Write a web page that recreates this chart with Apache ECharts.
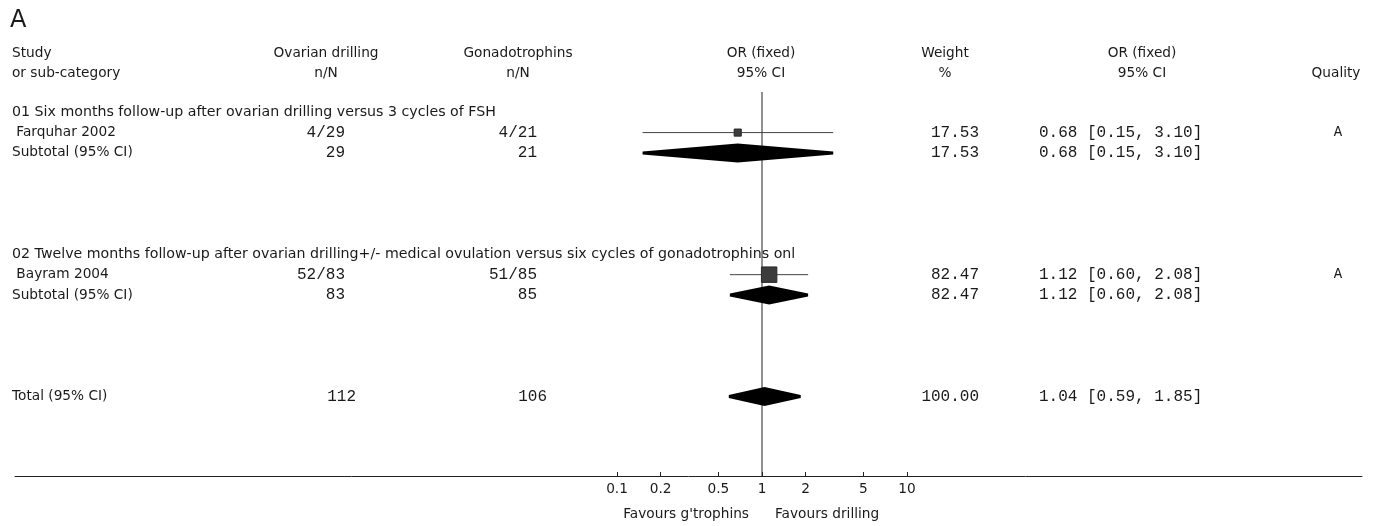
<!DOCTYPE html>
<html><head><meta charset="utf-8">
<script src="https://cdn.jsdelivr.net/npm/echarts@6/dist/echarts.min.js"></script>
<style>html,body{margin:0;padding:0;background:#fff}#c{width:1378px;height:526px}</style>
</head><body><div id="c"></div>
<script>
// ---------- data ----------
const panelLabel = 'A';
const headerRow1 = ['Study', 'Ovarian drilling', 'Gonadotrophins', 'OR (fixed)', 'Weight', 'OR (fixed)', ''];
const headerRow2 = ['or sub-category', 'n/N', 'n/N', '95% CI', '%', '95% CI', 'Quality'];
const groupTitles = [
  '01 Six months follow-up after ovarian drilling versus 3 cycles of FSH',
  '02 Twelve months follow-up after ovarian drilling+/- medical ovulation versus six cycles of gonadotrophins onl'
];
const studyNames = [' Farquhar 2002', ' Bayram 2004'];
const drillEvents = [4, 52];
const drillTotals = [29, 83];
const gonEvents = [4, 51];
const gonTotals = [21, 85];
const studyOR = [0.68, 1.12];
const studyLo = [0.15, 0.60];
const studyHi = [3.10, 2.08];
const studyWeight = [17.53, 82.47];
const studyQuality = ['A', 'A'];
const subtotalLabel = 'Subtotal (95% CI)';
const subtotalDrillN = [29, 83];
const subtotalGonN = [21, 85];
const subtotalOR = [0.68, 1.12];
const subtotalLo = [0.15, 0.60];
const subtotalHi = [3.10, 2.08];
const subtotalWeight = [17.53, 82.47];
const totalLabel = 'Total (95% CI)';
const totalDrillN = [112];
const totalGonN = [106];
const totalOR = [1.04];
const totalLo = [0.59];
const totalHi = [1.85];
const totalWeight = [100.00];
const tickValues = [0.1, 0.2, 0.5, 1, 2, 5, 10];
const favoursLeft = "Favours g'trophins";
const favoursRight = 'Favours drilling';

// ---------- layout ----------
const X_MIN = -5.152, X_MAX = 4.138;   // log10 OR range spanned by the axis line
const Y_MIN = -1, Y_MAX = 17.92;       // row range
const GROUP_STEP = 7, TOTAL_ROW = 14;
const SANS = 'DejaVu Sans', MONO = 'Liberation Mono';
const SANS_SIZE = 13.7, TITLE_SIZE = 14.2, MONO_SIZE = 16;
const TXT = '#1a1a1a';
const L = Math.log10;

const studyData = studyOR.map((o, i) => [L(studyLo[i]), L(studyHi[i]), L(o), i * GROUP_STEP + 1, studyWeight[i]]);
const diamondData = subtotalOR.map((o, i) => [L(subtotalLo[i]), L(subtotalHi[i]), L(o), i * GROUP_STEP + 2])
  .concat([[L(totalLo[0]), L(totalHi[0]), L(totalOR[0]), TOTAL_ROW]]);

const chart = echarts.init(document.getElementById('c'), null, {renderer: 'canvas'});
chart.setOption({
  animation: false,
  backgroundColor: '#fff',
  grid: {left: 15, right: 16, top: 92, bottom: 50},
  xAxis: {
    type: 'value', min: X_MIN, max: X_MAX,
    splitLine: {show: false},
    axisLine: {show: true, onZero: false, lineStyle: {color: '#222', width: 1}},
    axisTick: {show: true, inside: true, length: 4, customValues: tickValues.map(L), lineStyle: {color: '#222'}},
    axisLabel: {
      show: true, customValues: tickValues.map(L), margin: 6,
      fontFamily: SANS, fontSize: SANS_SIZE, color: TXT,
      formatter: v => String(Number(Math.pow(10, v).toPrecision(2)))
    }
  },
  yAxis: {type: 'value', inverse: true, min: Y_MIN, max: Y_MAX, show: false},
  series: [
    {
      type: 'line', data: [[0, Y_MIN], [0, Y_MAX]], symbol: 'none', silent: true,
      lineStyle: {color: '#222', width: 1}, z: 1
    },
    {
      type: 'custom', data: studyData, z: 3,
      renderItem: (params, api) => {
        const y = api.coord([0, api.value(3)])[1];
        const x0 = api.coord([api.value(0), 0])[0];
        const x1 = api.coord([api.value(1), 0])[0];
        const xc = api.coord([api.value(2), 0])[0];
        const s = 1.7 * Math.sqrt(api.value(4));
        return {type: 'group', children: [
          {type: 'line', shape: {x1: x0, y1: y, x2: x1, y2: y}, style: {stroke: '#444', lineWidth: 1}},
          {type: 'rect', shape: {x: xc - s / 2, y: y - s / 2, width: s, height: s}, style: {fill: '#3c3c3c', stroke: '#2a2a2a', lineWidth: 1}}
        ]};
      }
    },
    {
      type: 'custom', data: diamondData, z: 3,
      renderItem: (params, api) => {
        const y = api.coord([0, api.value(3)])[1];
        const x0 = api.coord([api.value(0), 0])[0];
        const x1 = api.coord([api.value(1), 0])[0];
        const xc = api.coord([api.value(2), 0])[0];
        const h = 9.5, t = 1.5;
        return {type: 'polygon', shape: {points: [[x0, y - t], [xc, y - h], [x1, y - t], [x1, y + t], [xc, y + h], [x0, y + t]]}, style: {fill: '#000'}};
      }
    }
  ]
});

// ---------- text table ----------
const rowY = r => chart.convertToPixel({gridIndex: 0}, [0, r])[1];
const els = [];
function txt(x, y, s, align, font, size) {
  els.push({type: 'text', x: x, y: y, silent: true,
    style: {text: s, fill: TXT, font: size + 'px "' + font + '"', textAlign: align, textVerticalAlign: 'middle'}});
}
txt(10, 21, panelLabel, 'left', SANS, 24);
const hdrX = [12, 326, 518, 761, 945, 1142, 1336];
const hdrAlign = ['left', 'center', 'center', 'center', 'center', 'center', 'center'];
headerRow1.forEach((s, i) => txt(hdrX[i], 53, s, hdrAlign[i], SANS, SANS_SIZE));
headerRow2.forEach((s, i) => txt(hdrX[i], 73, s, hdrAlign[i], SANS, SANS_SIZE));

const fmtCI = (o, lo, hi) => o.toFixed(2) + ' [' + lo.toFixed(2) + ', ' + hi.toFixed(2) + ']';
const COL_DRILL = 345, COL_GON = 537, COL_W = 979, COL_CI = 1039, COL_Q = 1338;
groupTitles.forEach((g, i) => {
  const r0 = i * GROUP_STEP;
  txt(12, rowY(r0), g, 'left', SANS, TITLE_SIZE);
  const y1 = rowY(r0 + 1);
  txt(12, y1, studyNames[i], 'left', SANS, SANS_SIZE);
  txt(COL_DRILL, y1, drillEvents[i] + '/' + drillTotals[i], 'right', MONO, MONO_SIZE);
  txt(COL_GON, y1, gonEvents[i] + '/' + gonTotals[i], 'right', MONO, MONO_SIZE);
  txt(COL_W, y1, studyWeight[i].toFixed(2), 'right', MONO, MONO_SIZE);
  txt(COL_CI, y1, fmtCI(studyOR[i], studyLo[i], studyHi[i]), 'left', MONO, MONO_SIZE);
  txt(COL_Q, y1, studyQuality[i], 'center', MONO, MONO_SIZE - 2);
  const y2 = rowY(r0 + 2);
  txt(12, y2, subtotalLabel, 'left', SANS, SANS_SIZE);
  txt(COL_DRILL, y2, String(subtotalDrillN[i]), 'right', MONO, MONO_SIZE);
  txt(COL_GON, y2, String(subtotalGonN[i]), 'right', MONO, MONO_SIZE);
  txt(COL_W, y2, subtotalWeight[i].toFixed(2), 'right', MONO, MONO_SIZE);
  txt(COL_CI, y2, fmtCI(subtotalOR[i], subtotalLo[i], subtotalHi[i]), 'left', MONO, MONO_SIZE);
});
const yt = rowY(TOTAL_ROW);
txt(12, yt, totalLabel, 'left', SANS, SANS_SIZE);
txt(356, yt, String(totalDrillN[0]), 'right', MONO, MONO_SIZE);
txt(547, yt, String(totalGonN[0]), 'right', MONO, MONO_SIZE);
txt(COL_W, yt, totalWeight[0].toFixed(2), 'right', MONO, MONO_SIZE);
txt(COL_CI, yt, fmtCI(totalOR[0], totalLo[0], totalHi[0]), 'left', MONO, MONO_SIZE);
txt(749, 514, favoursLeft, 'right', SANS, SANS_SIZE);
txt(775, 514, favoursRight, 'left', SANS, SANS_SIZE);

chart.setOption({graphic: {elements: els}});
</script>
</body></html>
